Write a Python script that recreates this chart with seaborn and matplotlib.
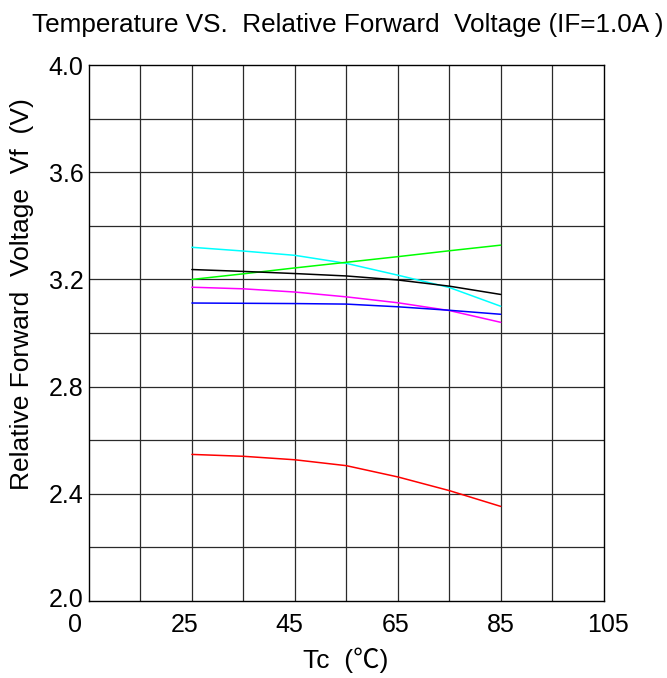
import matplotlib
matplotlib.use("Agg")
import matplotlib.pyplot as plt
import matplotlib.transforms as mtransforms
import seaborn as sns
import pandas as pd

# Case temperature (°C) sample points
temps = [25, 35, 45, 55, 65, 75, 85]

# Forward voltage (V) per emitter colour
vf_cyan = [3.320, 3.306, 3.290, 3.260, 3.216, 3.170, 3.100]
vf_green = [3.200, 3.221, 3.243, 3.264, 3.285, 3.307, 3.328]
vf_black = [3.237, 3.230, 3.222, 3.213, 3.198, 3.175, 3.144]
vf_magenta = [3.171, 3.165, 3.153, 3.135, 3.113, 3.084, 3.040]
vf_blue = [3.112, 3.111, 3.110, 3.108, 3.098, 3.085, 3.070]
vf_red = [2.547, 2.540, 2.527, 2.505, 2.463, 2.412, 2.353]

series = {
    "cyan": vf_cyan,
    "lime": vf_green,
    "black": vf_black,
    "magenta": vf_magenta,
    "blue": vf_blue,
    "red": vf_red,
}
line_colors = {"cyan": "#00ffff", "lime": "#00ff00", "black": "#000000",
               "magenta": "#ff00ff", "blue": "#0000ff", "red": "#ff0000"}

x_tick_pos = [5, 25, 45, 65, 85, 105]
x_tick_labels = ["0", "25", "45", "65", "85", "105"]
y_ticks = [2.0, 2.4, 2.8, 3.2, 3.6, 4.0]

rows = []
for name, vals in series.items():
    for t, v in zip(temps, vals):
        rows.append({"Tc": t, "Vf": v, "series": name})
df = pd.DataFrame(rows)

sns.set_theme(style="white")
plt.rcParams["font.family"] = ["Liberation Sans", "DejaVu Sans"]
plt.rcParams["text.color"] = "black"

fig = plt.figure(figsize=(6.67, 6.78), dpi=100)
ax = fig.add_axes([0.1334, 0.1136, 0.7716, 0.7904])

sns.lineplot(data=df, x="Tc", y="Vf", hue="series", palette=line_colors,
             linewidth=1.1, legend=False, ax=ax, zorder=3)

ax.set_xlim(5, 105)
ax.set_ylim(2.0, 4.0)

# grid every 10 °C and every 0.2 V
for gx in range(15, 105, 10):
    ax.axvline(gx, color="#2a2a2a", lw=0.9, zorder=1)
for i in range(1, 10):
    ax.axhline(2.0 + 0.2 * i, color="#2a2a2a", lw=0.9, zorder=1)

ax.set_xticks(x_tick_pos)
ax.set_xticklabels(x_tick_labels)
ax.set_yticks(y_ticks)
ax.set_yticklabels([f"{v:.1f}" for v in y_ticks])
ax.tick_params(axis="both", length=0, labelsize=18, colors="black")
ax.tick_params(axis="x", pad=9)
ax.tick_params(axis="y", pad=4)

# hand-set nudges of the temperature labels (pixels)
x_nudges = [-14, -7, -6, -2.5, 0, 4.5]
for lbl, dx in zip(ax.get_xticklabels(), x_nudges):
    off = mtransforms.ScaledTranslation(dx / 100.0, 0, fig.dpi_scale_trans)
    lbl.set_transform(lbl.get_transform() + off)

# lift the bottom voltage label slightly so it clears the "0" below it
lbl0 = ax.get_yticklabels()[0]
lbl0.set_transform(lbl0.get_transform()
                   + mtransforms.ScaledTranslation(0, 0.03, fig.dpi_scale_trans))

for sp in ax.spines.values():
    sp.set_color("black")
    sp.set_linewidth(1.0)

ax.set_xlabel("")
ax.set_ylabel("")

fig.text(0.033, 0.566, "Relative Forward  Voltage  Vf  (V)", fontsize=19,
         rotation=90, ha="center", va="center")
fig.text(0.519, 0.026, "Tc  (℃)", fontsize=19, ha="center", va="center",
         family=["Liberation Sans", "Noto Sans CJK SC"])
fig.text(0.522, 0.963, "Temperature VS.  Relative Forward  Voltage (IF=1.0A )",
         fontsize=18.8, ha="center", va="center")

fig.savefig("out.png", dpi=100, facecolor="white")
